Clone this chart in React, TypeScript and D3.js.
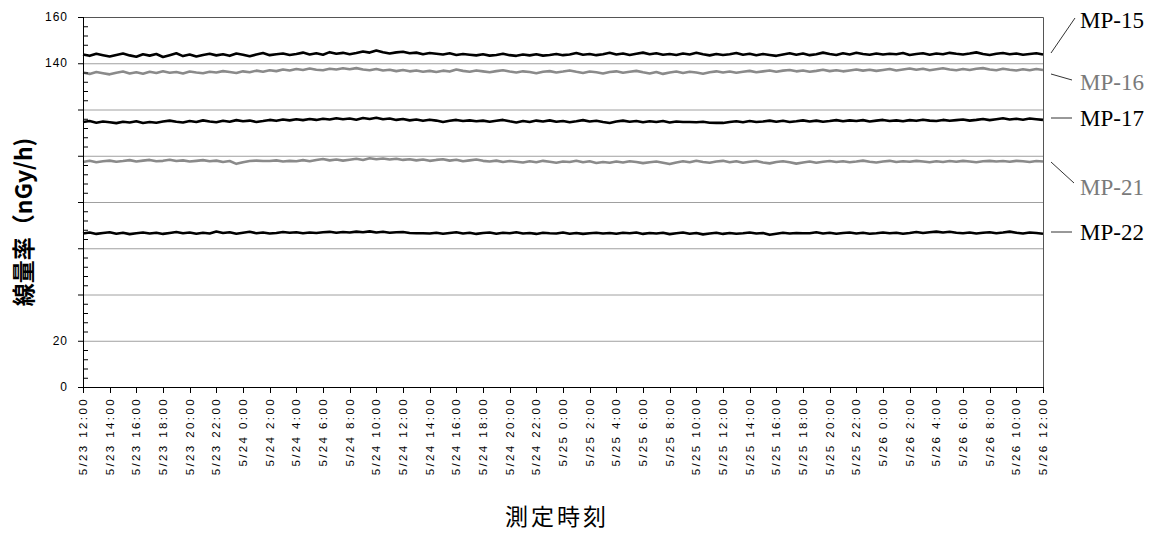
import React from 'react';
import * as d3 from 'd3';

// 30-minute readings from 5/23 12:00 to 5/26 12:00 (145 points each)
const startTime = new Date(2011, 4, 23, 12, 0);
const endTime = new Date(2011, 4, 26, 12, 0);
const stepMinutes = 30;

const mp15 = [
  143.8,143.2,144.1,143.5,142.9,143.6,144.2,143.4,142.8,143.9,143.3,144.0,142.7,143.5,144.3,143.1,143.8,142.9,143.6,144.1,
  143.4,143.9,143.2,144.2,143.7,143.0,143.8,144.4,143.5,143.9,144.2,143.6,144.0,144.6,143.8,144.3,143.7,144.8,144.1,144.5,
  143.9,144.4,145.1,144.6,145.5,144.8,144.2,144.7,145.0,144.3,144.6,143.9,144.4,144.1,143.8,144.3,143.6,144.0,143.7,143.4,
  143.9,143.3,143.6,144.1,143.5,143.2,143.8,143.4,143.9,143.3,143.6,144.0,143.5,143.8,144.4,143.7,144.0,143.5,143.9,144.5,
  143.8,144.2,143.6,144.1,144.6,143.9,144.3,143.7,144.0,143.6,144.2,143.8,144.5,143.9,143.4,144.0,143.6,143.9,144.4,143.7,
  144.1,143.5,144.0,143.6,143.2,143.8,144.3,143.7,144.2,143.5,143.9,144.6,144.0,143.6,144.3,143.8,144.5,144.0,143.7,144.2,
  143.8,144.1,143.9,144.4,143.6,144.0,144.3,143.7,144.2,143.9,144.5,144.1,143.8,144.2,144.7,144.0,143.6,144.1,144.4,143.9,
  144.2,143.7,144.0,144.3,143.8,
];
const mp16 = [
  136.0,135.4,136.2,135.7,135.2,135.9,136.4,135.6,136.1,135.5,136.3,135.8,136.5,135.9,136.2,135.6,136.4,136.0,135.7,136.3,
  136.0,136.6,136.2,135.8,136.5,136.1,136.8,136.3,137.0,136.6,137.3,136.9,137.5,137.1,137.7,137.2,137.0,137.6,137.3,137.8,
  137.4,137.9,137.3,137.0,137.5,136.9,137.2,136.6,137.1,136.5,136.9,136.3,136.7,136.2,136.8,136.4,137.3,136.7,136.3,136.9,
  136.5,136.1,136.6,137.0,136.4,136.0,136.5,136.2,135.7,136.3,136.6,136.0,136.4,136.9,136.3,135.8,136.4,136.1,135.6,136.2,
  136.5,135.9,136.3,136.7,136.1,135.6,136.2,135.4,136.0,136.4,135.8,136.3,136.0,135.5,136.1,136.5,136.0,136.4,135.9,136.3,
  136.7,136.1,136.5,136.9,136.3,136.8,137.1,136.5,136.9,136.3,136.7,137.2,136.6,137.0,136.5,136.9,137.3,136.8,137.2,136.7,
  137.1,137.5,136.9,137.3,137.7,137.2,137.6,137.0,137.4,137.8,137.3,137.0,137.5,137.1,137.6,137.9,137.3,137.0,137.6,137.2,
  136.9,137.4,137.0,137.5,137.1,
];
const mp17 = [
  114.6,115.0,114.3,114.8,114.5,114.1,114.7,114.4,114.9,114.2,114.6,114.3,114.8,115.2,114.7,114.4,115.0,114.6,115.3,114.8,
  114.5,115.1,114.7,115.4,114.9,115.2,114.6,115.0,115.5,115.1,115.7,115.3,115.8,115.4,115.9,115.5,116.0,115.7,116.2,115.8,
  116.1,115.6,116.3,115.9,116.4,115.8,116.1,115.5,115.9,115.3,115.7,115.1,115.6,115.2,114.6,115.1,115.5,115.0,115.3,114.9,
  115.2,114.7,115.1,115.5,114.9,114.4,115.0,114.6,115.2,114.8,115.3,114.7,115.0,114.5,114.9,115.4,114.8,115.1,114.6,114.2,
  114.8,115.2,114.7,115.0,114.5,114.9,114.6,115.0,114.4,114.8,114.6,114.6,114.5,114.7,114.3,114.2,114.2,114.6,114.9,114.5,
  115.0,114.6,114.8,115.2,114.7,115.1,114.6,114.9,115.3,114.8,115.2,114.7,115.0,115.4,114.9,115.3,115.0,115.4,114.8,115.2,
  115.5,115.0,115.3,114.9,115.4,115.1,115.6,115.2,115.0,115.5,115.1,115.4,115.7,115.2,115.5,115.9,115.4,115.8,116.2,115.7,
  116.0,115.6,116.1,115.8,115.5,
];
const mp21 = [
  97.3,97.8,97.2,97.6,97.9,97.4,97.7,98.1,97.5,97.9,98.2,97.6,97.8,98.3,97.7,98.0,97.5,97.8,98.1,97.6,
  97.9,97.3,97.7,96.5,97.2,97.7,97.9,97.7,97.7,98.0,97.5,97.8,97.6,98.1,97.6,98.2,98.6,98.0,98.4,97.9,
  98.3,98.7,98.2,98.9,98.5,98.8,98.4,98.7,98.2,98.5,98.0,98.4,97.8,98.2,98.5,97.9,98.3,97.6,98.0,98.4,
  97.8,97.5,97.9,97.3,97.7,97.4,97.1,97.6,97.2,97.8,97.4,97.0,97.5,97.3,97.8,97.2,97.6,96.9,97.3,97.0,
  97.5,97.1,97.6,97.3,96.8,97.2,97.5,97.0,96.4,97.1,97.6,97.2,97.8,97.3,97.0,97.5,97.8,97.2,97.6,97.0,
  97.4,97.7,97.1,96.7,97.3,97.6,97.2,96.6,97.1,97.5,97.0,97.4,97.7,97.3,97.6,97.2,97.5,97.9,97.4,97.1,
  97.5,97.8,97.3,97.6,97.4,97.8,97.5,97.2,97.6,97.3,97.7,97.4,97.8,97.5,97.2,97.6,97.8,97.5,97.7,97.4,
  97.8,97.6,97.3,97.7,97.5,
];
const mp22 = [
  66.4,66.8,66.2,66.6,66.9,66.3,66.7,66.1,66.5,66.8,66.4,66.7,66.2,66.6,67.0,66.5,66.8,66.3,66.7,66.4,
  67.2,66.6,66.9,66.3,66.7,67.1,66.5,66.8,66.4,66.6,67.0,66.7,66.9,66.5,66.8,66.6,66.9,67.1,66.7,67.0,
  66.8,67.2,66.9,67.3,66.8,67.1,66.7,66.9,67.0,66.6,66.5,66.5,66.4,66.7,66.3,66.6,66.9,66.4,66.7,66.2,
  66.6,66.8,66.3,66.7,66.5,66.9,66.4,66.6,66.2,66.7,66.5,66.4,66.8,66.3,66.6,66.2,66.5,66.7,66.4,66.6,
  66.3,66.7,66.5,66.8,66.2,66.6,66.4,66.7,66.1,66.5,66.8,66.3,66.6,66.0,66.4,66.7,66.2,66.6,66.3,66.5,
  66.8,66.4,66.6,65.8,66.3,66.7,66.4,66.6,66.5,66.5,66.9,66.4,66.7,66.3,66.6,66.8,66.4,66.7,66.3,66.5,
  66.8,66.5,66.7,66.3,66.6,67.0,66.6,66.9,67.2,66.8,67.1,66.7,66.5,66.8,66.4,66.7,66.9,66.5,66.8,67.2,
  66.7,66.4,66.8,66.6,66.3,
];

const seriesNames = ['MP-15', 'MP-16', 'MP-17', 'MP-21', 'MP-22'];
const seriesValues = [mp15, mp16, mp17, mp21, mp22];
const seriesColors = ['#000000', '#8a8a8a', '#000000', '#8a8a8a', '#000000'];

const yLabelValues = [0, 20, 140, 160];
const gridValues = [20, 40, 60, 80, 100, 120, 140];
const yTitle = '線量率（nGy/h)';
const xTitle = '測定時刻';

// label position: [label center y, leader start y, leader end x, leader end y]
const labelLayout = [
  [20, 53, 1075, 18],
  [82, 74, 1072, 80],
  [118, 118, 1072, 118],
  [187, 162, 1074, 183],
  [232, 232, 1072, 232],
];

const W = 1160, H = 533;
const margin = {top: 17, right: 117, bottom: 146, left: 83};

const App = () => {
  const svgRef = React.useRef<SVGSVGElement>(null);

  React.useEffect(() => {
    const svg = d3.select(svgRef.current);
    svg.selectAll('*').remove();

    const x = d3.scaleTime().domain([startTime, endTime]).range([margin.left, W - margin.right]);
    const y = d3.scaleLinear().domain([0, 160]).range([H - margin.bottom, margin.top]);
    const x0 = margin.left, x1 = W - margin.right;
    const yBottom = H - margin.bottom;

    // grid
    svg.append('g').selectAll('line').data(gridValues).join('line')
      .attr('x1', x0).attr('x2', x1)
      .attr('y1', d => y(d) + 0.5).attr('y2', d => y(d) + 0.5)
      .attr('stroke', '#a0a0a0').attr('stroke-width', 1);

    // frame top/right
    svg.append('path')
      .attr('d', `M${x0},${y(160) + 0.5}H${x1 + 0.5}V${yBottom}`)
      .attr('fill', 'none').attr('stroke', '#555').attr('stroke-width', 1);

    // series lines
    const line = d3.line<number>()
      .x((_, i) => x(d3.timeMinute.offset(startTime, i * stepMinutes)))
      .y(d => y(d))
      .curve(d3.curveLinear);

    svg.append('g').selectAll('path').data(seriesValues).join('path')
      .attr('d', d => line(d))
      .attr('fill', 'none')
      .attr('stroke', (_, i) => seriesColors[i])
      .attr('stroke-width', 2.6)
      .attr('stroke-linejoin', 'round');

    // y axis
    const yAxis = svg.append('g');
    yAxis.append('line')
      .attr('x1', x0 + 0.5).attr('x2', x0 + 0.5)
      .attr('y1', y(160)).attr('y2', yBottom)
      .attr('stroke', '#000');
    yAxis.selectAll('.minor').data(d3.range(0, 161, 4)).join('line')
      .attr('class', 'minor')
      .attr('x1', x0).attr('x2', d => d % 20 === 0 ? x0 - 5 : x0 + 5)
      .attr('y1', d => y(d) + 0.5).attr('y2', d => y(d) + 0.5)
      .attr('stroke', '#000');
    yAxis.selectAll('text').data(yLabelValues).join('text')
      .attr('x', 68).attr('y', d => y(d))
      .attr('text-anchor', 'end')
      .attr('dominant-baseline', 'central')
      .attr('font-family', 'Liberation Sans, Arial, sans-serif')
      .attr('font-size', 12)
      .attr('letter-spacing', 1)
      .attr('fill', '#000')
      .text(d => d);

    // x axis
    const xTicks = d3.timeHour.every(2)!.range(startTime, d3.timeMinute.offset(endTime, 1));
    const fmt = (d: Date) => `${d.getMonth() + 1}/${d.getDate()} ${d.getHours()}:00`;
    const xAxis = svg.append('g');
    xAxis.append('line')
      .attr('x1', x0).attr('x2', x1 + 0.5)
      .attr('y1', yBottom + 0.5).attr('y2', yBottom + 0.5)
      .attr('stroke', '#000');
    xAxis.selectAll('.tick').data(xTicks).join('line')
      .attr('class', 'tick')
      .attr('x1', d => Math.round(x(d)) + 0.5).attr('x2', d => Math.round(x(d)) + 0.5)
      .attr('y1', yBottom).attr('y2', yBottom + 6)
      .attr('stroke', '#000');
    xAxis.selectAll('text').data(xTicks).join('text')
      .attr('transform', d => `translate(${x(d)},${yBottom + 10}) rotate(-90)`)
      .attr('text-anchor', 'end')
      .attr('dominant-baseline', 'central')
      .attr('font-family', 'Liberation Sans, Arial, sans-serif')
      .attr('font-size', 11.5)
      .attr('letter-spacing', 2.4)
      .attr('fill', '#000')
      .text(d => fmt(d));

    // series labels
    const labels = svg.append('g');
    seriesNames.forEach((name, i) => {
      const [ly, sy, ex, ey] = labelLayout[i];
      labels.append('line')
        .attr('x1', x1 + 8).attr('y1', sy)
        .attr('x2', ex).attr('y2', ey)
        .attr('stroke', '#333').attr('stroke-width', 1);
      labels.append('text')
        .attr('x', 1080).attr('y', ly)
        .attr('dominant-baseline', 'central')
        .attr('font-family', 'Liberation Serif, Times New Roman, serif')
        .attr('font-size', 23)
        .attr('fill', seriesColors[i] === '#000000' ? '#000' : '#7a7a7a')
        .text(name);
    });

    // titles
    svg.append('text')
      .attr('transform', `translate(22,222) rotate(-90)`)
      .attr('text-anchor', 'middle')
      .attr('dominant-baseline', 'central')
      .attr('font-family', 'Noto Sans CJK JP, sans-serif')
      .attr('font-size', 23)
      .attr('font-weight', 700)
      .attr('fill', '#000')
      .text(yTitle);
    svg.append('text')
      .attr('x', 557).attr('y', 515)
      .attr('text-anchor', 'middle')
      .attr('dominant-baseline', 'central')
      .attr('font-family', 'Noto Sans CJK JP, sans-serif')
      .attr('font-size', 23)
      .attr('letter-spacing', 3)
      .attr('fill', '#000')
      .text(xTitle);
  }, []);

  return (
    <svg ref={svgRef} width={W} height={H}
      style={{position: 'absolute', left: 0, top: 0, background: '#fff'}} />
  );
};

export default App;
